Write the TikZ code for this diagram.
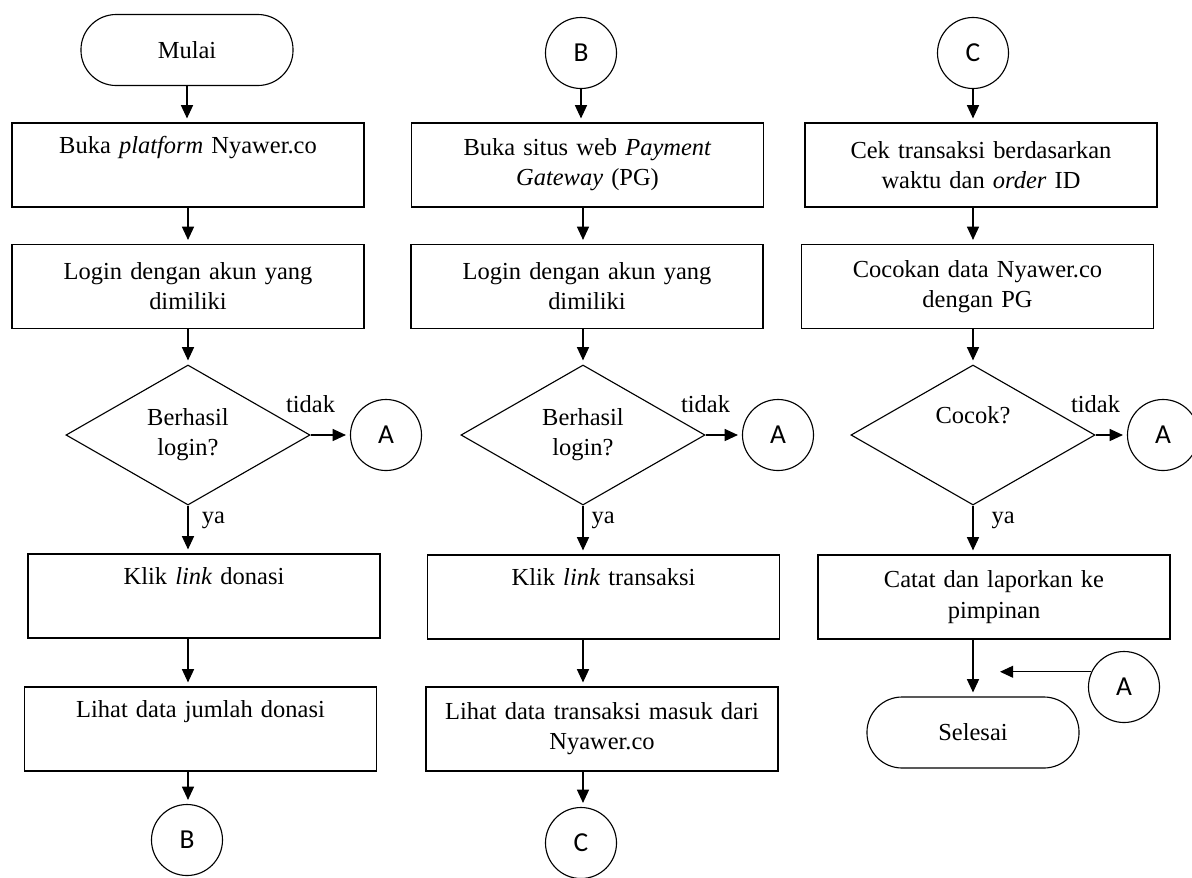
\documentclass[tikz,border=0pt]{standalone}
\usepackage{fontspec}
\setmainfont{Liberation Serif}
\newfontfamily\letterfont{Carlito}
\usetikzlibrary{shapes.geometric,arrows.meta}

\begin{document}
\begin{tikzpicture}[x=0.025cm, y=-0.025cm, line width=0.8pt,
  font=\fontsize{17.4}{21.5}\selectfont,
  proc/.style={draw, rectangle, minimum width=8.8cm, minimum height=2.1cm,
    text width=8.4cm, align=center, inner sep=0pt},
  term/.style={draw, rectangle, rounded corners=0.88cm, minimum width=5.3cm,
    minimum height=1.775cm},
  dec/.style={draw, diamond, aspect=1.74, minimum width=6.1cm,
    minimum height=3.5cm, align=center, inner sep=0pt},
  conn/.style={draw, circle, minimum size=1.775cm, inner sep=0pt,
    font=\letterfont\fontsize{19.5}{22}\selectfont},
  arr/.style={-{Triangle[width=0.3cm,length=0.33cm]}, shorten >=0.1cm},
  lbl/.style={inner sep=0pt}]
  \useasboundingbox (0,0) rectangle (1192,877);

  % kolom 1
  \node[term] (mulai) at (187,50) {Mulai};
  \node[proc] (b11) at (188,165) {Buka \textit{platform} Nyawer.co\\ \strut};
  \node[proc] (b12) at (188,286.5) {Login dengan akun yang\\ dimiliki};
  \node[dec] (d1) at (188,435) {Berhasil\\ login?};
  \node[conn] (a1) at (386,435) {A};
  \node[proc] (b13) at (204,596) {Klik \textit{link} donasi\\ \strut};
  \node[proc] (b14) at (200.5,729) {Lihat data jumlah donasi\\ \strut};
  \node[conn] (bb) at (187,840) {B};

  % kolom 2
  \node[conn] (bt) at (581,53) {B};
  \node[proc] (b21) at (587.5,165) {Buka situs web \textit{Payment}\\ \textit{Gateway} (PG)};
  \node[proc] (b22) at (587,286.5) {Login dengan akun yang\\ dimiliki};
  \node[dec] (d2) at (583,435) {Berhasil\\ login?};
  \node[conn] (a2) at (778,435) {A};
  \node[proc] (b23) at (603.5,597) {Klik \textit{link} transaksi\\ \strut};
  \node[proc] (b24) at (602,729) {Lihat data transaksi masuk dari\\ Nyawer.co};
  \node[conn] (cb) at (581,843) {C};

  % kolom 3
  \node[conn] (ct) at (973,53) {C};
  \node[proc] (b31) at (981,165) {Cek transaksi berdasarkan\\ waktu dan \textit{order} ID};
  \node[proc] (b32) at (977.5,286.5) {Cocokan data Nyawer.co\\ dengan PG};
  \node[dec] (d3) at (973,435) {Cocok?\\ \strut};
  \node[conn] (a3) at (1163,435) {A};
  \node[proc] (b33) at (994,597) {Catat dan laporkan ke\\ pimpinan};
  \node[conn] (a4) at (1124,687) {A};
  \node[term] (selesai) at (973,732.5) {Selesai};
  \coordinate (mrg) at (996,672);

  \draw[arr] (mulai.south) -- (b11.north -| mulai);
  \draw[arr] (b11.south -| d1) -- (b12.north -| d1);
  \draw[arr] (b12.south -| d1) -- (d1.north);
  \draw[arr] (d1.east) -- node[pos=0, anchor=base, yshift=0.56cm, lbl] {tidak} (a1);
  \draw[arr] (d1.south) -- node[pos=0.3, right=0.33cm, lbl] {ya} (b13.north -| d1);
  \draw[arr] (b13.south -| d1) -- (b14.north -| d1);
  \draw[arr] (b14.south -| d1) -- (bb.north -| d1);

  \draw[arr] (bt.south) -- (b21.north -| bt);
  \draw[arr] (b21.south -| d2) -- (b22.north -| d2);
  \draw[arr] (b22.south -| d2) -- (d2.north);
  \draw[arr] (d2.east) -- node[pos=0, anchor=base, yshift=0.56cm, lbl] {tidak} (a2);
  \draw[arr] (d2.south) -- node[pos=0.3, right=0.2cm, lbl] {ya} (b23.north -| d2);
  \draw[arr] (b23.south -| d2) -- (b24.north -| d2);
  \draw[arr] (b24.south -| d2) -- (cb.north -| d2);

  \draw[arr] (ct.south) -- (b31.north -| ct);
  \draw[arr] (b31.south -| d3) -- (b32.north -| d3);
  \draw[arr] (b32.south -| d3) -- (d3.north);
  \draw[arr] (d3.east) -- node[pos=0, anchor=base, yshift=0.56cm, lbl] {tidak} (a3);
  \draw[arr] (d3.south) -- node[pos=0.3, right=0.45cm, lbl] {ya} (b33.north -| d3);
  \draw[arr] (b33.south -| d3) -- (selesai.north);
  \draw[arr] (a4.155) -- (a4.155 -| mrg);
\end{tikzpicture}
\end{document}
